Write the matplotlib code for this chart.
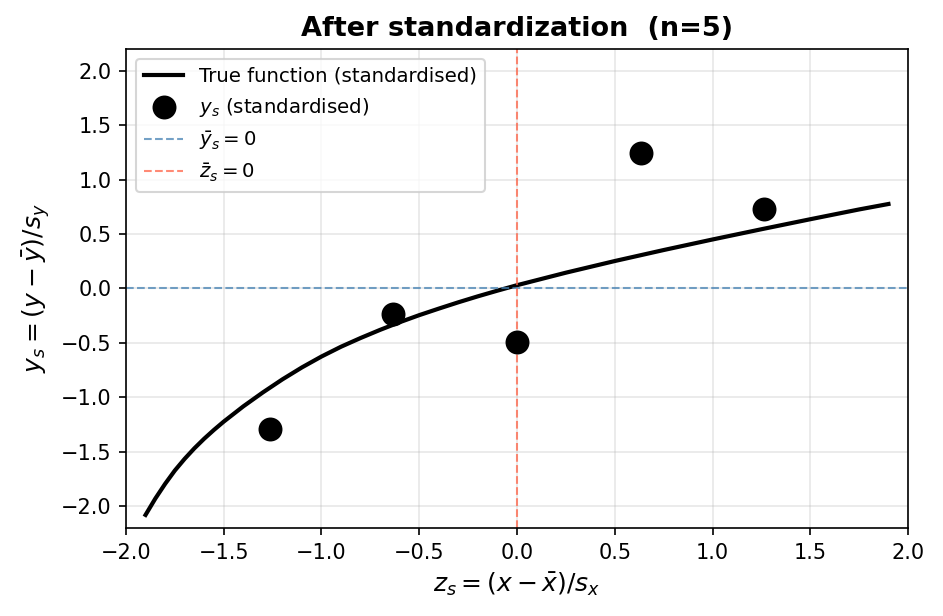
import matplotlib
matplotlib.use("Agg")
import matplotlib.pyplot as plt

# standardised sample (n=5)
z_s = [-1.265, -0.632, 0.0, 0.632, 1.265]
y_s = [-1.29, -0.23, -0.49, 1.24, 0.73]

# true function
curve_z = [-1.90, -1.85, -1.80, -1.75, -1.70, -1.65, -1.60, -1.55, -1.50,
           -1.40, -1.30, -1.20, -1.10, -1.00, -0.90, -0.80, -0.70, -0.60,
           -0.50, -0.40, -0.30, -0.20, -0.10, 0.00, 0.25, 0.50, 0.75,
           1.00, 1.25, 1.50, 1.75, 1.90]
curve_y = [-2.08, -1.93, -1.795, -1.672, -1.565, -1.468, -1.380, -1.299,
           -1.223, -1.083, -0.955, -0.835, -0.725, -0.625, -0.535, -0.455,
           -0.38, -0.31, -0.245, -0.185, -0.127, -0.072, -0.02, 0.03,
           0.145, 0.252, 0.353, 0.45, 0.544, 0.636, 0.726, 0.776]

x_ticks = [-2.0, -1.5, -1.0, -0.5, 0.0, 0.5, 1.0, 1.5, 2.0]
y_ticks = [-2.0, -1.5, -1.0, -0.5, 0.0, 0.5, 1.0, 1.5, 2.0]

fig, ax = plt.subplots(figsize=(943 / 150, 616 / 150), dpi=150)
fig.subplots_adjust(left=0.1336, right=0.9629, top=0.9205, bottom=0.1429)

ax.plot(curve_z, curve_y, color="black", lw=2, label="True function (standardised)")
ax.scatter(z_s, y_s, s=110, color="black", zorder=5, label="$y_s$ (standardised)")
ax.axhline(0, color="steelblue", ls="--", lw=1, alpha=0.75, label=r"$\bar{y}_s = 0$")
ax.axvline(0, color="tomato", ls="--", lw=1, alpha=0.75, label=r"$\bar{z}_s = 0$")

ax.set_xlim(-2.0, 2.0)
ax.set_ylim(-2.2, 2.2)
ax.set_xticks(x_ticks)
ax.set_yticks(y_ticks)
ax.tick_params(labelsize=10)
ax.grid(True, alpha=0.3)

ax.set_xlabel(r"$z_s = (x - \bar{x})/s_x$", fontsize=12)
ax.set_ylabel(r"$y_s = (y - \bar{y})/s_y$", fontsize=12)
ax.set_title("After standardization  (n=5)", fontsize=13, fontweight="bold")
ax.legend(loc="upper left", fontsize=9.5)

fig.savefig("out.png", dpi=150)
